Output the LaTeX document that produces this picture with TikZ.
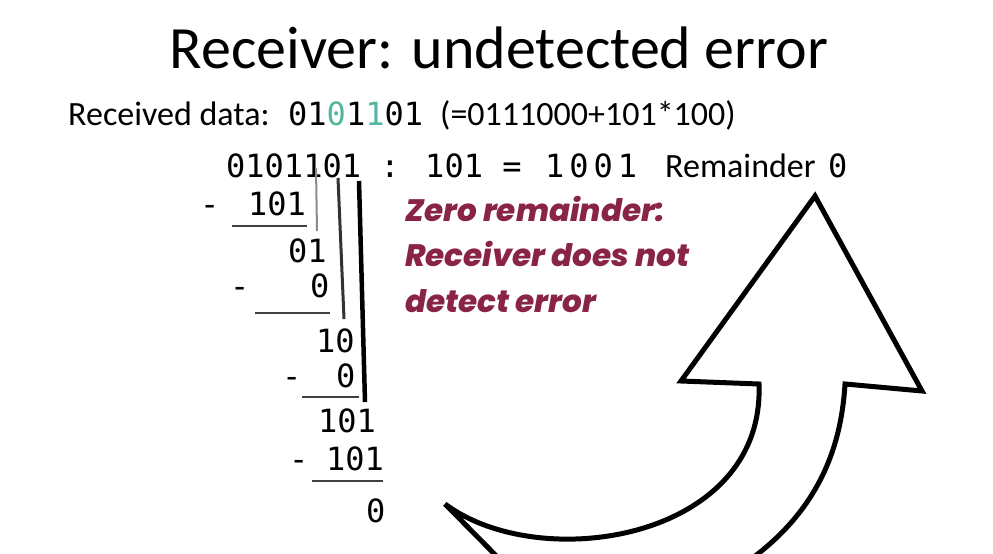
\documentclass[tikz,border=0pt]{standalone}
\usepackage{fontspec}
\usepackage{xcolor}
\usepackage{tikz}
\usetikzlibrary{calc,backgrounds}
\newfontfamily\handfont{Carlito}
\newfontfamily\digitfont{DejaVu Sans Mono}
\newfontfamily\notefont{Poppins}[BoldItalicFont={Poppins ExtraBold Italic}]
\definecolor{noteRed}{RGB}{138,36,70}
\definecolor{bitTeal}{RGB}{84,182,160}

\begin{document}
\begin{tikzpicture}[x=1pt,y=-1pt,
  hand/.style={inner sep=0pt,anchor=base west,font=\handfont\fontsize{34}{40}\selectfont},
  digits/.style={inner sep=0pt,anchor=base west,font=\digitfont\fontsize{32}{38}\selectfont},
  note/.style={inner sep=0pt,anchor=base west,text=noteRed,font=\notefont\bfseries\itshape\fontsize{31}{36}\selectfont},
  rule/.style={line width=1.6pt,black!75},
  arrowline/.style={line width=5pt,line join=miter,black}]
\useasboundingbox (0,0) rectangle (993,554);
\node[inner sep=0pt,anchor=base,font=\handfont\fontsize{60}{66}\selectfont] (title) at (499,68) {Receiver: undetected error};
\node[hand] (recv) at (68,125) {Received data:};
\node[digits] (data) at (288,125) {01{\color{bitTeal}0}1{\color{bitTeal}1}01};
\node[hand] (sum) at (440,125) {(=0111000+101*100)};
% division line
\node[digits] (r1) at (226,177) {0101101 : 101 =};
\node[digits] (quot) at (545,177) {1\hspace{5pt}0\hspace{5pt}0\hspace{5pt}1};
\node[hand] (rest) at (665,177) {Remainder};
\node[digits] (restval) at (828,177) {0};
% long division
\node[digits] (m2) at (200,215) {-};
\node[digits] (r2) at (248,215) {101};
\draw[rule] (232,226) -- (307,226);
\node[digits] (r3) at (288,262) {01};
\node[digits] (m4) at (230,297) {-};
\node[digits] (r4) at (310,297) {0};
\draw[rule] (255,313) -- (330,313);
\node[digits] (r5) at (316,352) {10};
\node[digits] (m6) at (282,387) {-};
\node[digits] (r6) at (336,387) {0};
\draw[rule] (302,397) -- (359,397);
\node[digits] (r7) at (318,432) {101};
\node[digits] (m8) at (289,470) {-};
\node[digits] (r8) at (326,470) {101};
\draw[rule] (312,481) -- (383,481);
\node[digits] (r9) at (366,522) {0};
% bring-down lines
\draw[line width=2pt,black!45] (316,168) -- (317,231);
\draw[line width=3pt,black!80] (338,178) -- (344,319);
\draw[line width=4.5pt,black] (359,181) -- (365,402);
% note
\node[note] (note1) at (405,221) {Zero remainder:};
\node[note] (note2) at (405,266) {Receiver does not};
\node[note] (note3) at (405,312) {detect error};
% curved arrow
\begin{scope}
\clip (0,0) rectangle (993,554);
\draw[arrowline] (445,504) .. controls (540,575) and (765,540) .. (759,384)
  -- (681,381) -- (815,196) -- (922,391) -- (845,384)
  .. controls (840,470) and (800,540) .. (700,590)
  -- (530,590) -- cycle;
\end{scope}
\end{tikzpicture}
\end{document}
